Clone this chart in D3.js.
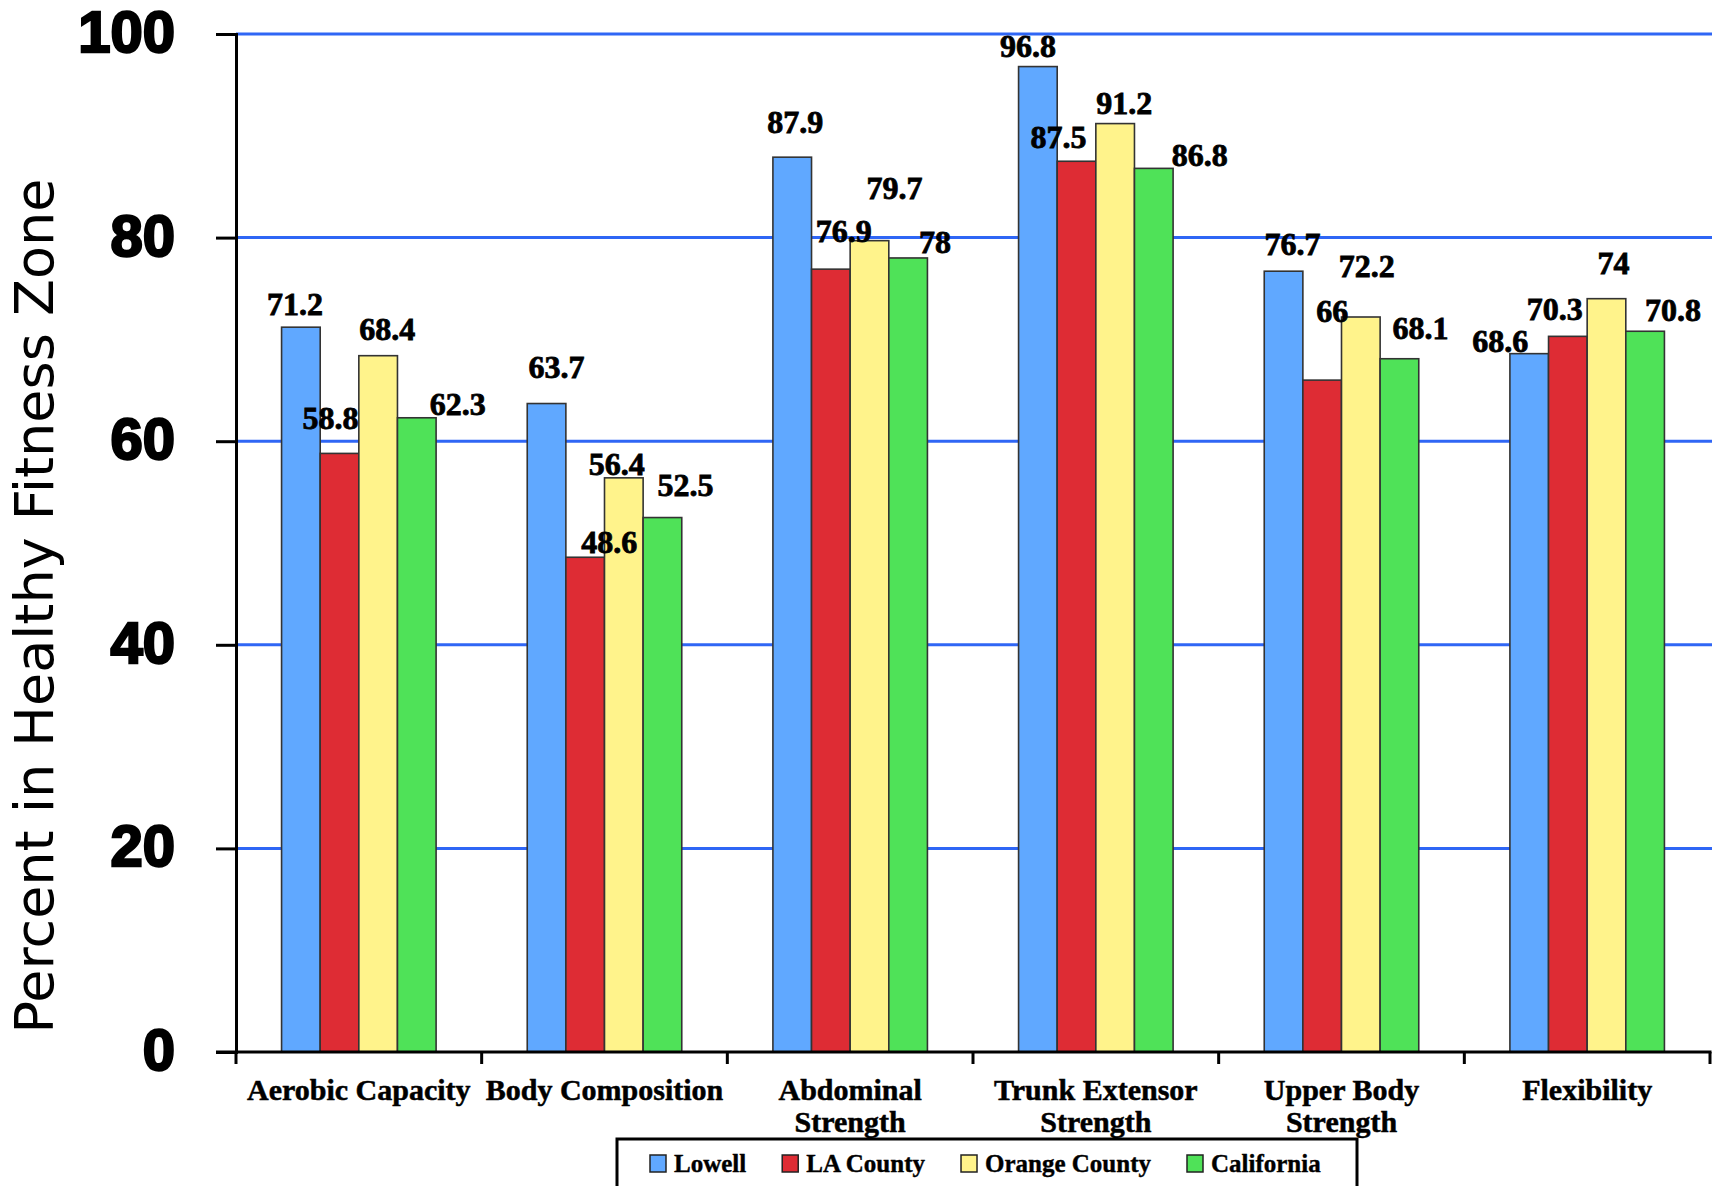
<!DOCTYPE html>
<html>
<head>
<meta charset="utf-8">
<script src="https://cdn.jsdelivr.net/npm/d3@7"></script>
<style>
  html, body { margin: 0; padding: 0; background: #fff; }
  svg { display: block; }
</style>
</head>
<body>
<svg id="chart" width="1712" height="1186"></svg>
<script>
// Fitness test results: percent of students in the Healthy Fitness Zone
const categories = ["Aerobic Capacity", "Body Composition", "Abdominal Strength",
                    "Trunk Extensor Strength", "Upper Body Strength", "Flexibility"];
const categoryLines = [["Aerobic Capacity"], ["Body Composition"], ["Abdominal", "Strength"],
                       ["Trunk Extensor", "Strength"], ["Upper Body", "Strength"], ["Flexibility"]];
const seriesNames = ["Lowell", "LA County", "Orange County", "California"];
const lowell       = [71.2, 63.7, 87.9, 96.8, 76.7, 68.6];
const laCounty     = [58.8, 48.6, 76.9, 87.5, 66, 70.3];
const orangeCounty = [68.4, 56.4, 79.7, 91.2, 72.2, 74];
const california   = [62.3, 52.5, 78, 86.8, 68.1, 70.8];
const yTicks = [0, 20, 40, 60, 80, 100];

const seriesValues = [lowell, laCounty, orangeCounty, california];
const seriesColors = ["#60a8ff", "#de2c34", "#fff38b", "#4fe258"];

// hand-placed nudges for the value labels [dx, dy] relative to each bar's top centre
const labelNudge = [
  [[-6, -12], [10, -26], [3, -24], [-10, -10], [9, -16], [-29, -2]],
  [[-9, -24], [24, -4], [13, -27], [-18, -13], [10, -58], [-13, -16]],
  [[9, -16], [-7, -3], [25, -42], [9, -10], [6, -40], [7, -25]],
  [[41, -3], [23, -22], [27, -5], [46, -2], [21, -20], [28, -10]]
];

const svg = d3.select("#chart");
const plotLeft = 236, plotRight = 1710, plotTop = 34, plotBottom = 1052;

const x0 = d3.scaleBand().domain(categories).range([plotLeft, plotRight]).padding(0);
const bw = x0.bandwidth();
const x1 = d3.scaleBand().domain(seriesNames).range([bw * 0.1855, bw * 0.8145]).padding(0);
const y = d3.scaleLinear().domain([0, 100]).range([plotBottom, plotTop]);

// horizontal gridlines
svg.append("g").selectAll("line")
  .data(yTicks.filter(t => t > 0))
  .join("line")
  .attr("x1", plotLeft).attr("x2", 1712)
  .attr("y1", d => y(d)).attr("y2", d => y(d))
  .attr("stroke", "#2f66f5").attr("stroke-width", 3);

// bars
const groups = svg.append("g").selectAll("g")
  .data(categories)
  .join("g")
  .attr("transform", d => `translate(${x0(d)},0)`);

groups.selectAll("rect")
  .data((c, ci) => seriesNames.map((s, si) => ({ s, si, ci, v: seriesValues[si][ci] })))
  .join("rect")
  .attr("x", d => x1(d.s))
  .attr("width", x1.bandwidth())
  .attr("y", d => y(d.v))
  .attr("height", d => y(0) - y(d.v))
  .attr("fill", d => seriesColors[d.si])
  .attr("stroke", "#333")
  .attr("stroke-width", 1.6);

// value labels
groups.selectAll("text.val")
  .data((c, ci) => seriesNames.map((s, si) => ({ s, si, ci, v: seriesValues[si][ci] })))
  .join("text")
  .attr("class", "val")
  .attr("x", d => x1(d.s) + x1.bandwidth() / 2 + labelNudge[d.si][d.ci][0])
  .attr("y", d => y(d.v) + labelNudge[d.si][d.ci][1])
  .attr("text-anchor", "middle")
  .attr("font-family", "'Liberation Serif', 'Times New Roman', serif")
  .attr("font-weight", "bold")
  .attr("font-size", 32)
  .attr("fill", "#000")
  .attr("stroke", "#000").attr("stroke-width", 0.8)
  .text(d => d.v);

// y axis
const yAxis = d3.axisLeft(y).tickValues(yTicks).tickSize(20).tickPadding(41).tickFormat(d3.format("d"));
const gy = svg.append("g").attr("transform", `translate(${plotLeft},0)`).call(yAxis);
gy.select(".domain").attr("stroke", "#000").attr("stroke-width", 3);
gy.selectAll(".tick line").attr("stroke", "#000").attr("stroke-width", 3);
gy.selectAll(".tick text")
  .attr("font-family", "'Liberation Sans', Arial, sans-serif")
  .attr("font-weight", "bold")
  .attr("font-size", 58)
  .attr("fill", "#000")
  .attr("stroke", "#000").attr("stroke-width", 2.4)
  .attr("dy", "0.30em");

// x axis baseline and band boundary ticks
svg.append("line")
  .attr("x1", 216).attr("x2", plotRight + 1.5)
  .attr("y1", plotBottom).attr("y2", plotBottom)
  .attr("stroke", "#000").attr("stroke-width", 3);
svg.append("g").selectAll("line")
  .data(categories.map(c => x0(c)).concat([plotRight]))
  .join("line")
  .attr("x1", d => d).attr("x2", d => d)
  .attr("y1", plotBottom).attr("y2", plotBottom + 12)
  .attr("stroke", "#000").attr("stroke-width", 3);

// category labels
const catText = svg.append("g").selectAll("text")
  .data(categories)
  .join("text")
  .attr("text-anchor", "middle")
  .attr("font-family", "'Liberation Serif', 'Times New Roman', serif")
  .attr("font-weight", "bold")
  .attr("font-size", 30)
  .attr("fill", "#000")
  .attr("stroke", "#000").attr("stroke-width", 0.5);
catText.each(function (c, i) {
  const t = d3.select(this);
  categoryLines[i].forEach((line, li) => {
    t.append("tspan")
      .attr("x", x0(c) + bw / 2)
      .attr("y", 1100 + li * 32)
      .text(line);
  });
});

// y axis title
svg.append("text")
  .attr("transform", "translate(53,606) rotate(-90)")
  .attr("text-anchor", "middle")
  .attr("font-family", "'DejaVu Sans', Verdana, sans-serif")
  .attr("font-size", 54)
  .attr("fill", "#000")
  .text("Percent in Healthy Fitness Zone");

// legend
const legend = svg.append("g");
legend.append("rect")
  .attr("x", 617).attr("y", 1139)
  .attr("width", 740).attr("height", 70)
  .attr("fill", "#fff").attr("stroke", "#000").attr("stroke-width", 3);
let lx = 650;
seriesNames.forEach((s, i) => {
  legend.append("rect")
    .attr("x", lx).attr("y", 1155)
    .attr("width", 16).attr("height", 17)
    .attr("fill", seriesColors[i])
    .attr("stroke", "#222").attr("stroke-width", 1.5);
  const t = legend.append("text")
    .attr("x", lx + 24).attr("y", 1172)
    .attr("font-family", "'Liberation Serif', 'Times New Roman', serif")
    .attr("font-weight", "bold")
    .attr("font-size", 25)
    .attr("fill", "#000")
    .attr("stroke", "#000").attr("stroke-width", 0.4)
    .text(s);
  lx += 24 + t.node().getComputedTextLength() + 36;
});
</script>
</body>
</html>
